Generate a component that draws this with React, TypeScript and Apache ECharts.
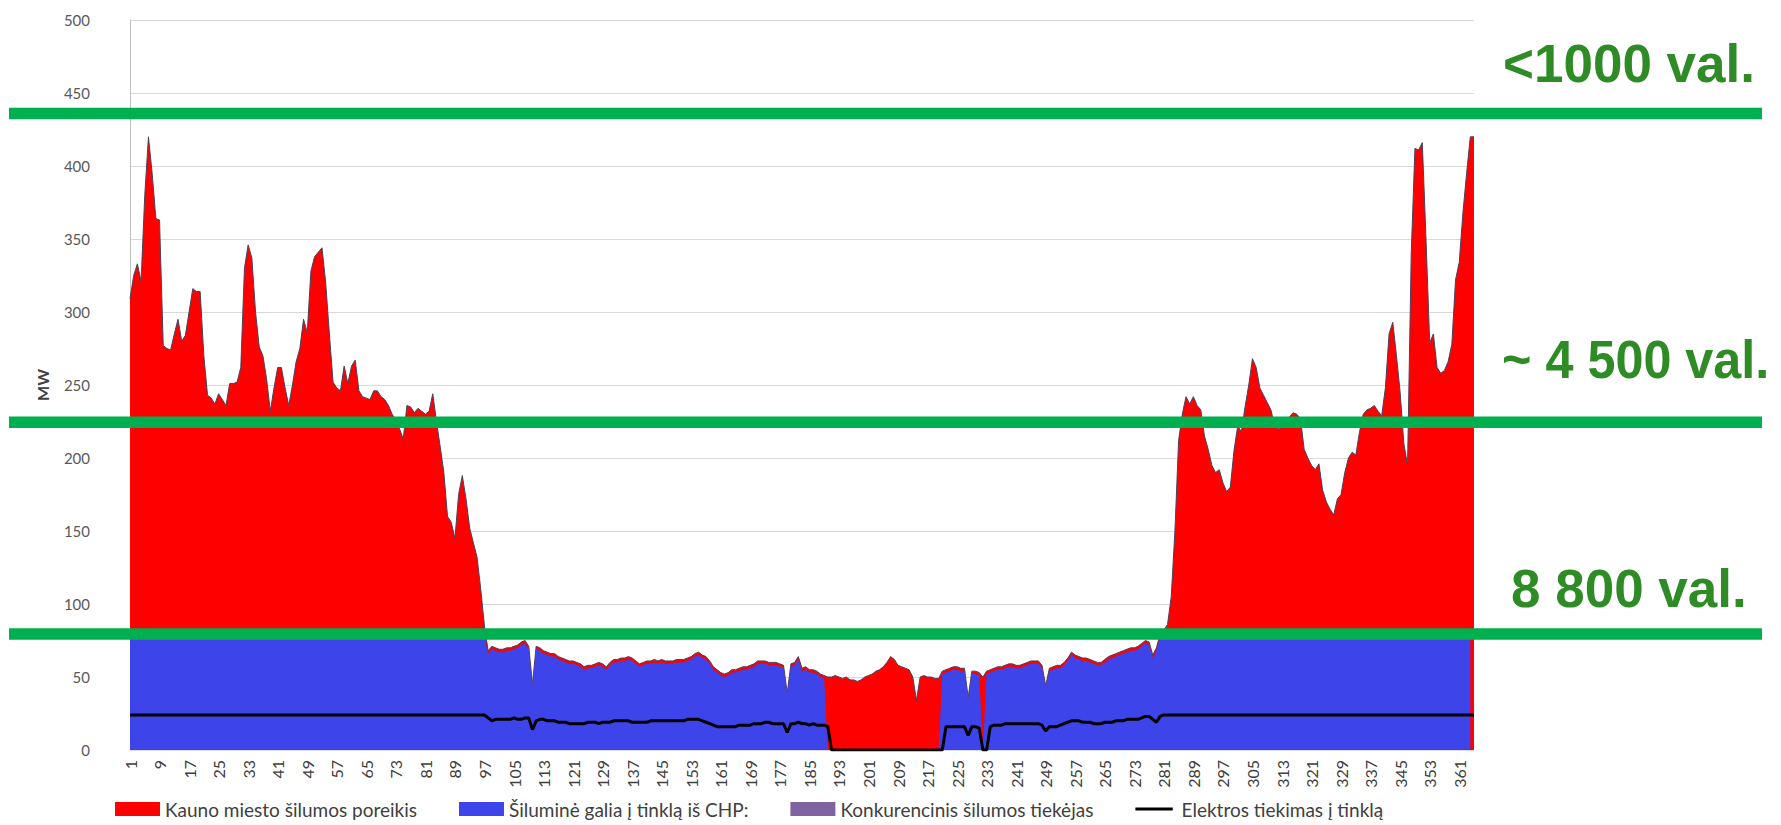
import React, { useEffect, useRef } from "react";
import * as echarts from "echarts";

// Day numbers 1..365
const days: string[] = Array.from({ length: 365 }, (_, i) => String(i + 1));

// Kauno miesto šilumos poreikis (MW), read per day
const demand: number[] = [
  309, 325, 333, 321, 380, 420, 395, 364, 363, 277,
  275, 274, 285, 295, 280, 284, 300, 316, 314, 314,
  270, 243, 241, 237, 244, 240, 236, 251, 251, 252,
  262, 330, 346, 337, 300, 276, 270, 254, 232, 248,
  262, 262, 248, 236, 250, 266, 275, 295, 286, 328,
  338, 341, 344, 320, 285, 252, 248, 246, 263, 251,
  263, 267, 246, 242, 241, 240, 246, 246, 242, 240,
  236, 230, 226, 220, 213, 236, 235, 231, 234, 232,
  230, 232, 244, 225, 208, 190, 160, 156, 145, 175,
  188, 172, 152, 142, 132, 110, 85, 68, 71, 70,
  69, 69, 70, 70, 71, 72, 74, 75, 71, 45,
  71, 70, 68, 67, 66, 66, 64, 63, 62, 61,
  61, 60, 59, 57, 58, 58, 59, 60, 59, 57,
  60, 62, 62, 63, 63, 64, 63, 61, 59, 60,
  61, 61, 62, 61, 62, 61, 61, 61, 62, 62,
  62, 63, 64, 66, 67, 65, 64, 61, 57, 55,
  53, 52, 53, 55, 55, 56, 57, 57, 58, 59,
  61, 61, 61, 60, 60, 60, 59, 58, 39, 59,
  60, 64, 56, 57, 55, 55, 54, 52, 51, 50,
  50, 51, 50, 49, 50, 48, 48, 47, 48, 50,
  51, 52, 54, 55, 57, 60, 64, 62, 58, 57,
  56, 55, 50, 34, 50, 51, 50, 50, 49, 49,
  54, 55, 56, 57, 57, 56, 56, 36, 54, 54,
  53, 50, 54, 55, 56, 57, 57, 58, 59, 59,
  58, 58, 59, 60, 61, 61, 61, 58, 44, 56,
  57, 58, 58, 60, 63, 67, 65, 64, 63, 63,
  62, 61, 60, 60, 62, 64, 65, 66, 67, 68,
  69, 70, 70, 71, 73, 75, 74, 65, 70, 80,
  82, 86, 105, 150, 212, 230, 242, 237, 242, 236,
  233, 215, 206, 195, 190, 192, 183, 177, 180, 205,
  222, 218, 235, 250, 268, 262, 248, 243, 238, 233,
  222, 220, 221, 223, 228, 231, 230, 227, 206, 200,
  195, 192, 196, 178, 170, 165, 161, 172, 175, 190,
  200, 204, 202, 218, 230, 233, 234, 236, 232, 229,
  248, 285, 293, 270, 245, 210, 195, 340, 412, 411,
  416, 350, 279, 285, 262, 258, 260, 266, 278, 322,
  334, 368, 395, 420, 420,
];

// Šiluminė galia į tinklą iš CHP (MW)
const chp: (number | null)[] = [
  78, 78, 78, 78, 78, 78, 78, 78, 78, 78,
  78, 78, 78, 78, 78, 78, 78, 78, 78, 78,
  78, 78, 78, 78, 78, 78, 78, 78, 78, 78,
  78, 78, 78, 78, 78, 78, 78, 78, 78, 78,
  78, 78, 78, 78, 78, 78, 78, 78, 78, 78,
  78, 78, 78, 78, 78, 78, 78, 78, 78, 78,
  78, 78, 78, 78, 78, 78, 78, 78, 78, 78,
  78, 78, 78, 78, 78, 78, 78, 78, 78, 78,
  78, 78, 78, 78, 78, 78, 78, 78, 78, 78,
  78, 78, 78, 78, 78, 78, 78, 66, 69, 68,
  67, 67, 68, 68, 69, 70, 72, 73, 69, 44,
  69, 68, 66, 65, 64, 64, 62, 61, 60, 59,
  59, 58, 57, 55, 56, 56, 57, 58, 57, 55,
  58, 60, 60, 61, 61, 62, 61, 59, 57, 58,
  59, 59, 60, 59, 60, 59, 59, 59, 60, 60,
  60, 61, 62, 64, 65, 63, 62, 59, 55, 53,
  51, 50, 51, 53, 53, 54, 55, 55, 56, 57,
  59, 59, 59, 58, 58, 58, 57, 56, 38, 57,
  58, 62, 54, 55, 53, 53, 52, 50, 49, 0,
  0, 0, 0, 0, 0, 0, 0, 0, 0, 0,
  0, 0, 0, 0, 0, 0, 0, 0, 0, 0,
  0, 0, 0, 0, 0, 0, 0, 0, 0, 0,
  52, 53, 54, 55, 55, 54, 54, 35, 52, 52,
  51, 0, 52, 53, 54, 55, 55, 56, 57, 57,
  56, 56, 57, 58, 59, 59, 59, 56, 43, 54,
  55, 56, 56, 58, 61, 65, 63, 62, 61, 61,
  60, 59, 58, 58, 60, 62, 63, 64, 65, 66,
  67, 68, 68, 69, 71, 73, 72, 63, 68, 78,
  78, 78, 78, 78, 78, 78, 78, 78, 78, 78,
  78, 78, 78, 78, 78, 78, 78, 78, 78, 78,
  78, 78, 78, 78, 78, 78, 78, 78, 78, 78,
  78, 78, 78, 78, 78, 78, 78, 78, 78, 78,
  78, 78, 78, 78, 78, 78, 78, 78, 78, 78,
  78, 78, 78, 78, 78, 78, 78, 78, 78, 78,
  78, 78, 78, 78, 78, 78, 78, 78, 78, 78,
  78, 78, 78, 78, 78, 78, 78, 78, 78, 78,
  78, 78, 78, 78, null,
];

// Konkurencinis šilumos tiekėjas (no values shown)
const competitor: number[] = [];

// Elektros tiekimas į tinklą (MW)
const electricity: number[] = [
  24, 24, 24, 24, 24, 24, 24, 24, 24, 24,
  24, 24, 24, 24, 24, 24, 24, 24, 24, 24,
  24, 24, 24, 24, 24, 24, 24, 24, 24, 24,
  24, 24, 24, 24, 24, 24, 24, 24, 24, 24,
  24, 24, 24, 24, 24, 24, 24, 24, 24, 24,
  24, 24, 24, 24, 24, 24, 24, 24, 24, 24,
  24, 24, 24, 24, 24, 24, 24, 24, 24, 24,
  24, 24, 24, 24, 24, 24, 24, 24, 24, 24,
  24, 24, 24, 24, 24, 24, 24, 24, 24, 24,
  24, 24, 24, 24, 24, 24, 24, 22, 20, 21,
  21, 21, 21, 21, 22, 21, 21, 22, 22, 14,
  20, 21, 21, 20, 20, 20, 19, 19, 19, 18,
  18, 18, 18, 18, 19, 19, 19, 18, 19, 19,
  19, 20, 20, 20, 20, 20, 19, 19, 19, 19,
  19, 20, 20, 20, 20, 20, 20, 20, 20, 20,
  20, 21, 21, 21, 21, 20, 19, 18, 17, 16,
  16, 16, 16, 16, 16, 17, 17, 17, 17, 18,
  18, 18, 19, 19, 18, 18, 18, 18, 12, 18,
  18, 19, 18, 18, 17, 18, 17, 17, 17, 16,
  0, 0, 0, 0, 0, 0, 0, 0, 0, 0,
  0, 0, 0, 0, 0, 0, 0, 0, 0, 0,
  0, 0, 0, 0, 0, 0, 0, 0, 0, 0,
  0, 16, 16, 16, 16, 16, 16, 10, 16, 16,
  15, 0, 0, 16, 17, 17, 17, 18, 18, 18,
  18, 18, 18, 18, 18, 18, 18, 17, 13, 16,
  16, 16, 17, 18, 19, 20, 20, 20, 19, 19,
  19, 18, 18, 18, 19, 19, 19, 20, 20, 20,
  21, 21, 21, 21, 22, 23, 23, 21, 19, 23,
  24, 24, 24, 24, 24, 24, 24, 24, 24, 24,
  24, 24, 24, 24, 24, 24, 24, 24, 24, 24,
  24, 24, 24, 24, 24, 24, 24, 24, 24, 24,
  24, 24, 24, 24, 24, 24, 24, 24, 24, 24,
  24, 24, 24, 24, 24, 24, 24, 24, 24, 24,
  24, 24, 24, 24, 24, 24, 24, 24, 24, 24,
  24, 24, 24, 24, 24, 24, 24, 24, 24, 24,
  24, 24, 24, 24, 24, 24, 24, 24, 24, 24,
  24, 24, 24, 24, 24,
];

// Threshold lines (MW) and their annotations
const thresholds: number[] = [436, 224.5, 79.5];
const thresholdLabels: string[] = ["<1000 val.", "~ 4 500 val.", "8 800 val."];

const seriesNames: string[] = [
  "Kauno miesto šilumos poreikis",
  "Šiluminė galia į tinklą iš CHP:",
  "Konkurencinis šilumos tiekėjas",
  "Elektros tiekimas į tinklą",
];

const FONT = "Lato, 'Noto Sans', sans-serif";
const LINE_ICON =
  "path://M0,0h0.05v0.05h-0.05z M0,6h40v3h-40z M0,14.95h0.05v0.05h-0.05z";

export default function App() {
  const ref = useRef<HTMLDivElement>(null);

  useEffect(() => {
    document.body.style.margin = "0";
    const el = ref.current!;
    const chart = echarts.init(el, undefined, { renderer: "svg" });
    chart.setOption({
      animation: false,
      backgroundColor: "#ffffff",
      textStyle: { fontFamily: FONT },
      grid: { left: 130, right: 307, top: 20, bottom: 75, containLabel: false },
      legend: {
        left: 110,
        top: 794,
        itemWidth: 45,
        itemHeight: 14,
        itemGap: 42,
        textStyle: { fontSize: 19, color: "#404040", fontFamily: FONT, lineHeight: 20 },
        data: [
          { name: seriesNames[0], icon: "rect" },
          { name: seriesNames[1], icon: "rect" },
          { name: seriesNames[2], icon: "rect" },
          { name: seriesNames[3], icon: LINE_ICON },
        ],
      },
      xAxis: {
        type: "category",
        data: days,
        boundaryGap: false,
        axisLine: { show: true, lineStyle: { color: "#d9d9d9" } },
        axisTick: { show: false },
        axisLabel: {
          interval: 7,
          rotate: 90,
          margin: 10,
          fontSize: 16,
          color: "#404040",
          fontFamily: FONT,
        },
        splitLine: { show: false },
      },
      yAxis: {
        type: "value",
        min: 0,
        max: 500,
        interval: 50,
        name: "MW",
        nameLocation: "middle",
        nameGap: 80,
        nameRotate: 90,
        nameTextStyle: { fontSize: 16, fontWeight: "bold", color: "#404040", fontFamily: FONT },
        axisLine: { show: true, lineStyle: { color: "#bfbfbf" } },
        axisTick: { show: false },
        axisLabel: { fontSize: 15, color: "#595959", margin: 40, fontFamily: FONT },
        splitLine: { show: true, lineStyle: { color: "#d9d9d9", width: 1 } },
      },
      series: [
        {
          name: seriesNames[0],
          type: "line",
          data: demand,
          symbol: "none",
          itemStyle: { color: "#ff0000" },
          lineStyle: { color: "#44445e", width: 1 },
          areaStyle: { color: "#ff0000", opacity: 1 },
          z: 2,
        },
        {
          name: seriesNames[1],
          type: "line",
          data: chp,
          symbol: "none",
          connectNulls: false,
          itemStyle: { color: "#3d44ea" },
          lineStyle: { width: 0, color: "#3d44ea" },
          areaStyle: { color: "#3d44ea", opacity: 1 },
          z: 3,
        },
        {
          name: seriesNames[2],
          type: "line",
          data: competitor,
          symbol: "none",
          itemStyle: { color: "#8064a2" },
          lineStyle: { color: "#8064a2" },
          areaStyle: { color: "#8064a2", opacity: 1 },
          z: 3,
        },
        {
          name: seriesNames[3],
          type: "line",
          data: electricity,
          symbol: "none",
          itemStyle: { color: "#000000" },
          lineStyle: { color: "#000000", width: 3 },
          z: 4,
        },
      ],
    });

    const lineEls = thresholds.map((v, i) => {
      const py = chart.convertToPixel({ yAxisIndex: 0 }, v) as number;
      return {
        type: "rect",
        id: "thr" + i,
        z: 100,
        shape: { x: 9, y: py - 5.75, width: 1753, height: 11.5 },
        style: { fill: "#00b050" },
        silent: true,
      };
    });
    const labelPos = [
      { x: 1503, y: 63, sx: 1 },
      { x: 1502, y: 360, sx: 0.95 },
      { x: 1511, y: 588, sx: 1 },
    ];
    const textEls = thresholdLabels.map((t, i) => ({
      type: "text",
      id: "lbl" + i,
      z: 100,
      x: labelPos[i].x,
      y: labelPos[i].y,
      scaleX: labelPos[i].sx,
      style: {
        text: t,
        fill: "#2e8b25",
        font: "bold 53px 'Liberation Sans', Arial, sans-serif",
        textVerticalAlign: "middle",
        textAlign: "left",
      },
      silent: true,
    }));
    chart.setOption({ graphic: [...lineEls, ...textEls] });

    return () => chart.dispose();
  }, []);

  return (
    <div
      ref={ref}
      style={{ position: "absolute", left: 0, top: 0, width: 1781, height: 825 }}
    />
  );
}
